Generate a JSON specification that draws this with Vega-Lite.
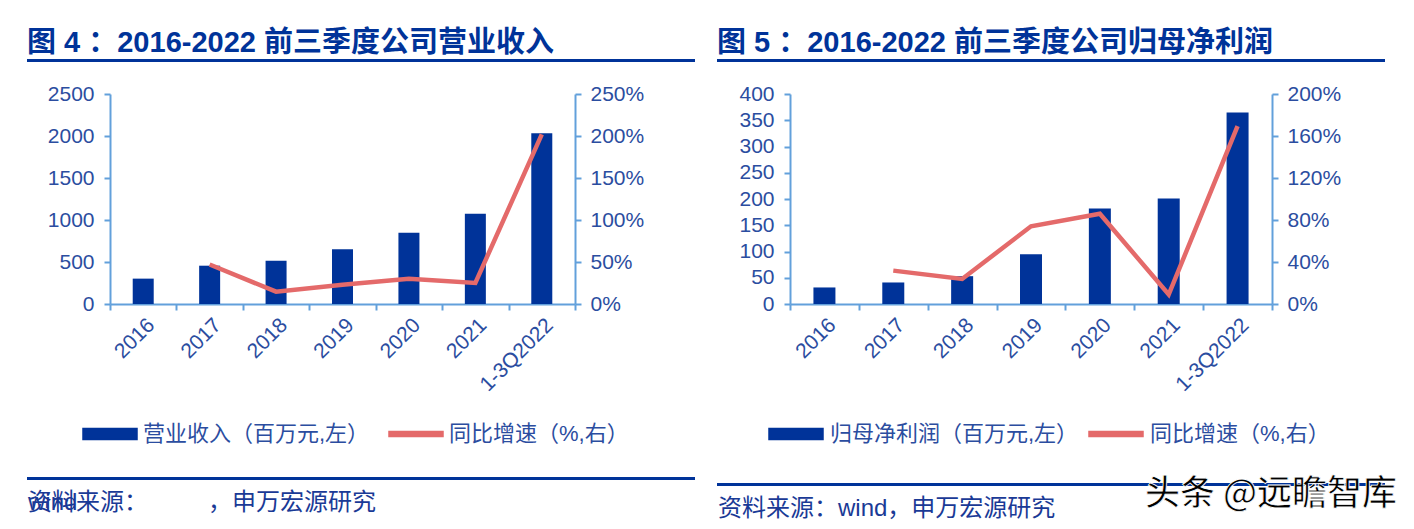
{
  "$schema": "https://vega.github.io/schema/vega-lite/v6.json",
  "background": "white",
  "padding": {"left": 27, "top": 28, "right": 0, "bottom": 0},
  "config": {
    "view": {"stroke": null},
    "font": "Liberation Sans, Noto Sans CJK SC",
    "axis": {"grid": false, "domainColor": "#62A0DB", "tickColor": "#62A0DB", "domainWidth": 2, "tickWidth": 2, "tickSize": 6, "labelFontSize": 21, "labelColor": "#2B4DA0", "labelFont": "Liberation Sans, Noto Sans CJK SC", "title": null},
    "legend": {"labelLimit": 0}
  },
  "spacing": 22,
  "resolve": {"scale": {"color": "independent"}, "legend": {"color": "independent"}},
  "hconcat": [
    {
      "title": {"text": "图 4 ：2016-2022 前三季度公司营业收入", "anchor": "start", "fontSize": 29, "fontWeight": "bold", "color": "#003399", "font": "Liberation Sans, Noto Sans CJK SC", "offset": -3},
      "spacing": 17,
      "resolve": {"scale": {"color": "independent"}, "legend": {"color": "independent"}},
      "vconcat": [
        {"width": 668, "height": 3, "view": {"fill": "#003399", "stroke": null}, "data": {"values": [{"t": ""}]}, "mark": "text", "encoding": {"text": {"field": "t"}}},
        {
          "width": 548, "height": 210,
          "data": {"values": [
            {"year": "2016", "rev": 302, "g": null},
            {"year": "2017", "rev": 456, "g": 0.47},
            {"year": "2018", "rev": 516, "g": 0.147},
            {"year": "2019", "rev": 651, "g": 0.23},
            {"year": "2020", "rev": 849, "g": 0.30},
            {"year": "2021", "rev": 1075, "g": 0.25},
            {"year": "1-3Q2022", "rev": 2032, "g": 2.02}
          ]},
          "encoding": {
            "x": {"field": "year", "type": "ordinal", "sort": null, "scale": {"paddingInner": 0, "paddingOuter": 0, "range": [83, 548]},
              "axis": {"tickBand": "extent", "labelAngle": -45, "labelPadding": 4}}
          },
          "layer": [
            {
              "mark": {"type": "bar", "size": 21},
              "encoding": {
                "y": {"field": "rev", "type": "quantitative", "scale": {"domain": [0, 2500], "nice": false},
                  "axis": {"orient": "left", "format": "d", "values": [0, 500, 1000, 1500, 2000, 2500], "labelPadding": 10, "offset": -83}},
                "color": {"datum": "营业收入（百万元,左）",
                  "scale": {"domain": ["营业收入（百万元,左）", "同比增速（%,右）"], "range": ["#003399", "#E46A6A"]},
                  "legend": {"orient": "none", "legendX": 40, "legendY": 297, "padding": 15, "direction": "horizontal", "title": null,
                    "labelFontSize": 22, "labelColor": "#2B4DA0", "labelFont": "Liberation Sans, Noto Sans CJK SC", "labelLimit": 0,
                    "symbolSize": 2916, "symbolType": "M-1,-0.2H1V0.2H-1Z", "labelOffset": 5, "columnPadding": 16,
                    "encode": {"symbols": {"update": {
                      "shape": {"signal": "datum.value === '营业收入（百万元,左）' ? 'M-1,-0.2H1V0.2H-1Z' : 'M-1,-0.09H1V0.09H-1Z'"},
                      "fill": {"signal": "datum.value === '营业收入（百万元,左）' ? '#003399' : '#E46A6A'"},
                      "stroke": {"value": "transparent"},
                      "opacity": {"value": 1}
                    }}}}
                }
              }
            },
            {
              "mark": {"type": "line", "strokeWidth": 4.5},
              "encoding": {
                "y": {"field": "g", "type": "quantitative", "scale": {"domain": [0, 2.5], "nice": false},
                  "axis": {"orient": "right", "format": ".0%", "values": [0, 0.5, 1, 1.5, 2, 2.5], "labelPadding": 9}},
                "color": {"datum": "同比增速（%,右）"}
              }
            }
          ],
          "resolve": {"scale": {"y": "independent"}}
        },
        {"width": 668, "height": 3, "view": {"fill": "#003399", "stroke": null},
          "data": {"values": [{"t": "资料来源：　　　，申万宏源研究"}, {"t": "wind"}]},
          "mark": {"type": "text", "align": "left", "baseline": "middle", "fontSize": 24, "color": "#1A3A96", "font": "Liberation Sans, Noto Sans CJK SC"},
          "encoding": {"text": {"field": "t"}, "x": {"value": 1}, "y": {"value": 26}}}
      ]
    },
    {
      "title": {"text": "图 5 ：2016-2022 前三季度公司归母净利润", "anchor": "start", "fontSize": 29, "fontWeight": "bold", "color": "#003399", "font": "Liberation Sans, Noto Sans CJK SC", "offset": -3},
      "spacing": 17,
      "resolve": {"scale": {"color": "independent"}, "legend": {"color": "independent"}},
      "vconcat": [
        {"width": 668, "height": 3, "view": {"fill": "#003399", "stroke": null}, "data": {"values": [{"t": ""}]}, "mark": "text", "encoding": {"text": {"field": "t"}}},
        {
          "width": 555, "height": 210,
          "data": {"values": [
            {"year": "2016", "np": 31.5, "g": null},
            {"year": "2017", "np": 41, "g": 0.318},
            {"year": "2018", "np": 53, "g": 0.238},
            {"year": "2019", "np": 95, "g": 0.74},
            {"year": "2020", "np": 182, "g": 0.86},
            {"year": "2021", "np": 201, "g": 0.09},
            {"year": "1-3Q2022", "np": 365, "g": 1.695}
          ]},
          "encoding": {
            "x": {"field": "year", "type": "ordinal", "sort": null, "scale": {"paddingInner": 0, "paddingOuter": 0, "range": [73, 555]},
              "axis": {"tickBand": "extent", "labelAngle": -45, "labelPadding": 4}}
          },
          "layer": [
            {
              "mark": {"type": "bar", "size": 22},
              "encoding": {
                "y": {"field": "np", "type": "quantitative", "scale": {"domain": [0, 400], "nice": false},
                  "axis": {"orient": "left", "format": "d", "values": [0, 50, 100, 150, 200, 250, 300, 350, 400], "labelPadding": 10, "offset": -73}},
                "color": {"datum": "归母净利润（百万元,左）",
                  "scale": {"domain": ["归母净利润（百万元,左）", "同比增速（%,右）"], "range": ["#003399", "#E46A6A"]},
                  "legend": {"orient": "none", "legendX": 36, "legendY": 297, "padding": 15, "direction": "horizontal", "title": null,
                    "labelFontSize": 22, "labelColor": "#2B4DA0", "labelFont": "Liberation Sans, Noto Sans CJK SC", "labelLimit": 0,
                    "symbolSize": 2916, "symbolType": "M-1,-0.2H1V0.2H-1Z", "labelOffset": 6, "columnPadding": 7,
                    "encode": {"symbols": {"update": {
                      "shape": {"signal": "datum.value === '归母净利润（百万元,左）' ? 'M-1,-0.2H1V0.2H-1Z' : 'M-1,-0.09H1V0.09H-1Z'"},
                      "fill": {"signal": "datum.value === '归母净利润（百万元,左）' ? '#003399' : '#E46A6A'"},
                      "stroke": {"value": "transparent"},
                      "opacity": {"value": 1}
                    }}}}
                }
              }
            },
            {
              "mark": {"type": "line", "strokeWidth": 4.5},
              "encoding": {
                "y": {"field": "g", "type": "quantitative", "scale": {"domain": [0, 2], "nice": false},
                  "axis": {"orient": "right", "format": ".0%", "values": [0, 0.4, 0.8, 1.2, 1.6, 2], "labelPadding": 9}},
                "color": {"datum": "同比增速（%,右）"}
              }
            }
          ],
          "resolve": {"scale": {"y": "independent"}}
        },
        {"width": 668, "height": 3, "view": {"fill": "#003399", "stroke": null},
          "layer": [
            {"data": {"values": [{"t": "资料来源：wind，申万宏源研究"}]},
              "mark": {"type": "text", "align": "left", "baseline": "middle", "fontSize": 24, "color": "#1A3A96", "font": "Liberation Sans, Noto Sans CJK SC"},
              "encoding": {"text": {"field": "t"}, "x": {"value": 1}, "y": {"value": 26}}},
            {"data": {"values": [{"t": "头条 @远瞻智库"}]},
              "mark": {"type": "text", "align": "right", "baseline": "middle", "fontSize": 35, "fontWeight": 500, "color": "#000000", "stroke": "white", "strokeWidth": 0.8, "font": "Noto Sans CJK SC"},
              "encoding": {"text": {"field": "t"}, "x": {"value": 680}, "y": {"value": 11}}}
          ]}
      ]
    }
  ]
}
